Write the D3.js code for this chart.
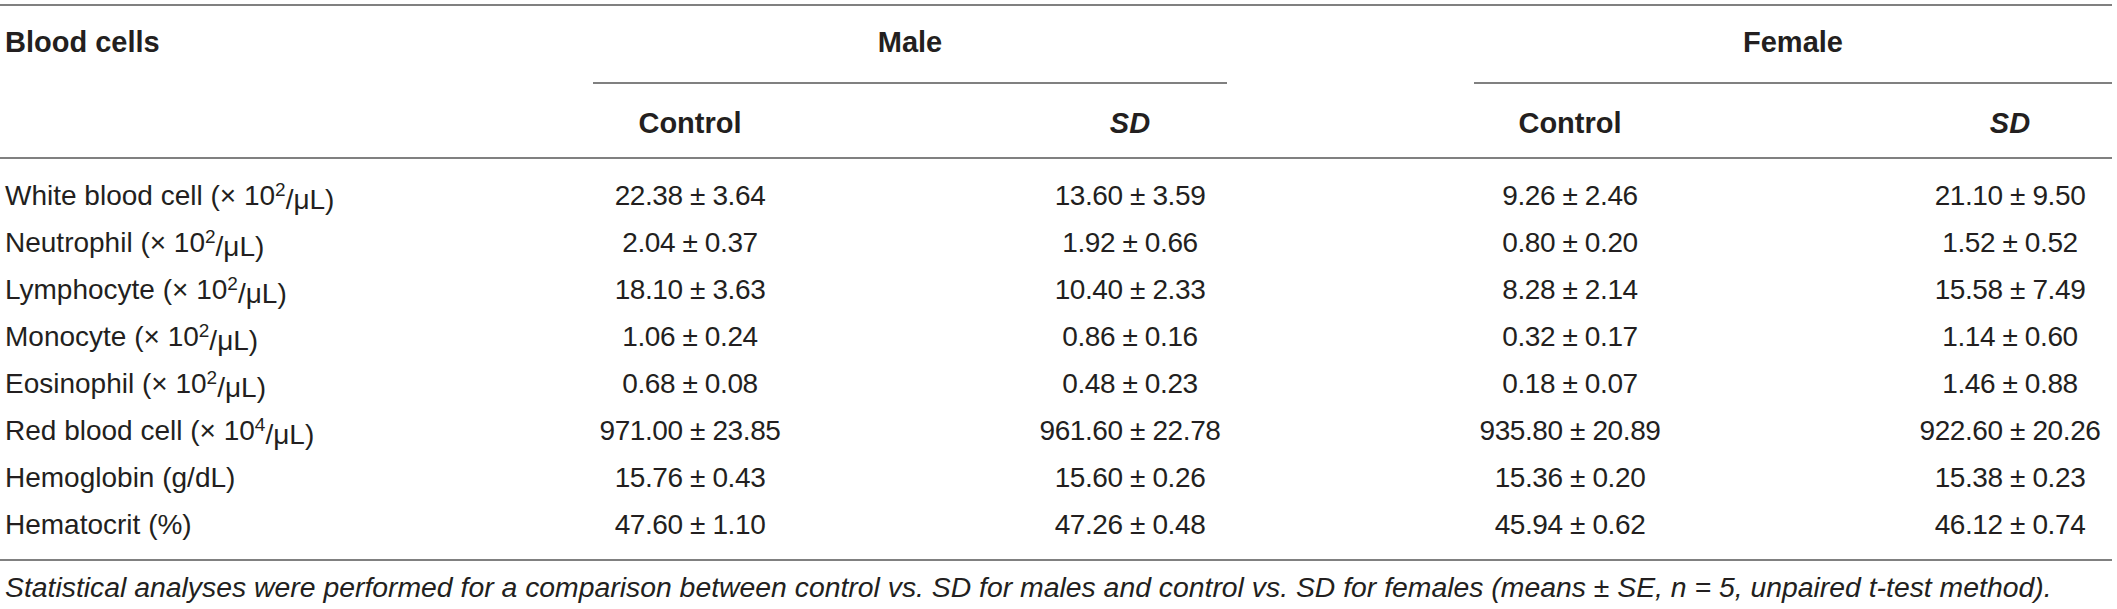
<!DOCTYPE html>
<html>
<head>
<meta charset="utf-8">
<script src="https://cdn.jsdelivr.net/npm/d3@7"></script>
<style>
  html, body { margin: 0; padding: 0; background: #fff; }
  svg { display: block; }
  text { font-family: "Liberation Sans", Arial, Helvetica, sans-serif; fill: #231f20; }
</style>
</head>
<body>
<svg id="chart" width="2117" height="609"></svg>
<script>
// ---- data ----
const rowLabels = ["White blood cell", "Neutrophil", "Lymphocyte", "Monocyte", "Eosinophil", "Red blood cell", "Hemoglobin", "Hematocrit"];
const unitPre  = ["(× 10", "(× 10", "(× 10", "(× 10", "(× 10", "(× 10", "(g/dL)", "(%)"];
const unitExp  = ["2", "2", "2", "2", "2", "4", "", ""];
const unitPost = ["/μL)", "/μL)", "/μL)", "/μL)", "/μL)", "/μL)", "", ""];

const groups = ["Male", "Female"];
const subHeads = ["Control", "SD", "Control", "SD"];
const columnKeys = ["maleControl", "maleSD", "femaleControl", "femaleSD"];

const maleControlMean   = [22.38, 2.04, 18.10, 1.06, 0.68, 971.00, 15.76, 47.60];
const maleControlSE     = [3.64, 0.37, 3.63, 0.24, 0.08, 23.85, 0.43, 1.10];
const maleSDMean        = [13.60, 1.92, 10.40, 0.86, 0.48, 961.60, 15.60, 47.26];
const maleSDSE          = [3.59, 0.66, 2.33, 0.16, 0.23, 22.78, 0.26, 0.48];
const femaleControlMean = [9.26, 0.80, 8.28, 0.32, 0.18, 935.80, 15.36, 45.94];
const femaleControlSE   = [2.46, 0.20, 2.14, 0.17, 0.07, 20.89, 0.20, 0.62];
const femaleSDMean      = [21.10, 1.52, 15.58, 1.14, 1.46, 922.60, 15.38, 46.12];
const femaleSDSE        = [9.50, 0.52, 7.49, 0.60, 0.88, 20.26, 0.23, 0.74];

const footnote = "Statistical analyses were performed for a comparison between control vs. SD for males and control vs. SD for females (means ± SE, n = 5, unpaired t-test method).";

// ---- build ----
const means = [maleControlMean, maleSDMean, femaleControlMean, femaleSDMean];
const ses = [maleControlSE, maleSDSE, femaleControlSE, femaleSDSE];

const svg = d3.select("#chart");
const W = 2117;
const lineColor = "#808080";
const lineW = 1.8;
const fs = 28;

const x = d3.scalePoint().domain(columnKeys).range([690, 2010]);
const y = d3.scalePoint().domain(d3.range(rowLabels.length)).range([195, 524]);
const groupSpan = { Male: [593, 1227], Female: [1474, 2112] };

function hline(x1, x2, yy) {
  svg.append("line").attr("x1", x1).attr("x2", x2).attr("y1", yy).attr("y2", yy)
    .attr("stroke", lineColor).attr("stroke-width", lineW);
}

// rules
hline(0, 2112, 5);
hline(0, 2112, 158);
hline(0, 2112, 560);
groups.forEach(g => hline(groupSpan[g][0], groupSpan[g][1], 83));

// header
svg.append("text").attr("x", 5).attr("y", 42).attr("dy", "0.35em")
  .attr("font-size", 29).attr("font-weight", "bold").text("Blood cells");

svg.selectAll("text.group").data(groups).join("text").attr("class", "group")
  .attr("x", g => (groupSpan[g][0] + groupSpan[g][1]) / 2)
  .attr("y", 42).attr("dy", "0.35em").attr("text-anchor", "middle")
  .attr("font-size", 29).attr("font-weight", "bold").text(g => g);

svg.selectAll("text.sub").data(columnKeys).join("text").attr("class", "sub")
  .attr("x", k => x(k)).attr("y", 123).attr("dy", "0.35em").attr("text-anchor", "middle")
  .attr("font-size", 29).attr("font-weight", "bold")
  .attr("font-style", (k, i) => subHeads[i] === "SD" ? "italic" : "normal")
  .text((k, i) => subHeads[i]);

// row labels
const lab = svg.selectAll("text.rowlab").data(rowLabels).join("text").attr("class", "rowlab")
  .attr("x", 5).attr("y", (d, i) => y(i)).attr("dy", "0.35em").attr("font-size", fs);
lab.append("tspan").text((d, i) => d + " " + unitPre[i]);
lab.append("tspan").attr("dy", (d, i) => unitExp[i] ? "-0.45em" : null)
  .attr("font-size", 19).text((d, i) => unitExp[i]);
lab.append("tspan").attr("dy", (d, i) => unitExp[i] ? "0.45em" : null)
  .text((d, i) => unitPost[i]);

// values
const fmt = d3.format(".2f");
columnKeys.forEach((k, c) => {
  svg.selectAll("text.val-" + k).data(means[c]).join("text").attr("class", "val-" + k)
    .attr("x", x(k)).attr("y", (d, i) => y(i)).attr("dy", "0.35em")
    .attr("text-anchor", "middle").attr("font-size", fs).attr("letter-spacing", -0.4)
    .text((d, i) => fmt(d) + " ± " + fmt(ses[c][i]));
});

// footnote
const fn = svg.append("text").attr("x", 5).attr("y", 587).attr("dy", "0.35em")
  .attr("font-size", fs).attr("font-style", "italic").text(footnote);
const targetW = 2048;
const len = fn.node().getComputedTextLength();
fn.attr("font-size", fs * targetW / len);
</script>
</body>
</html>
